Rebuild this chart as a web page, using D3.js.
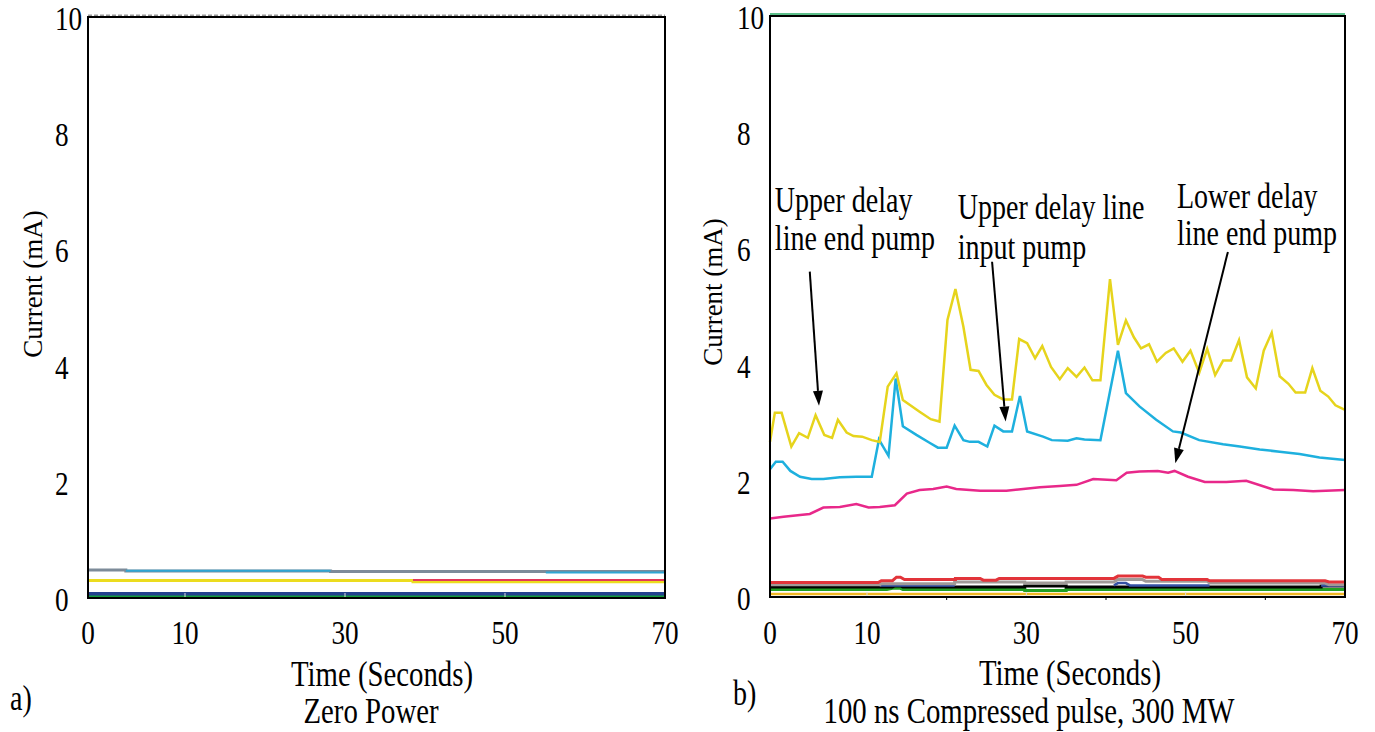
<!DOCTYPE html>
<html>
<head>
<meta charset="utf-8">
<script src="https://cdn.jsdelivr.net/npm/d3@7"></script>
<style>
    body { margin: 0; background: #fff; }
    text { font-family: "Liberation Serif", "Times New Roman", serif; fill: #000; }
</style>
</head>
<body>
<svg id="fig" width="1375" height="732"></svg>
<script>
// ---- data (time in seconds, current in mA) ----
var xTickLabels = [0, 10, 30, 50, 70];
var yTicks = [0, 2, 4, 6, 8, 10];
var innerTicks = [10, 30, 50];
var minorTicks = [20, 40, 60];

// panel a) zero power
var aTop = [[0, 10.03], [70, 10.03]];
var aGray = [[0, 0.48], [3.9, 0.48], [3.9, 0.465], [28.2, 0.465], [28.2, 0.455], [70, 0.455]];
var aCyan = [[3.9, 0.47], [28.2, 0.47], [28.2, null], [55.1, null], [55.1, 0.44], [70, 0.44]];
var aYellow = [[0, 0.3], [38.5, 0.3], [38.5, 0.28], [70, 0.28]];
var aRed = [[38.5, 0.31], [70, 0.31]];
var aNavy = [[0, 0.07], [70, 0.07]];
var aGreen = [[0, 0.025], [70, 0.025]];

// panel b) 100 ns compressed pulse, 300 MW
var bTop = [[0, 10.03], [70, 10.03]];
var bYellow = [[0, 2.67], [0.5, 3.17], [1.2, 3.17], [2.2, 2.59], [3.0, 2.82], [3.9, 2.74], [4.7, 3.13], [5.6, 2.79],
    [6.4, 2.74], [7.0, 3.05], [7.9, 2.83], [8.6, 2.77], [9.5, 2.76], [10.6, 2.70], [11.6, 2.67], [12.6, 3.62],
    [13.7, 3.85], [14.5, 3.39], [16.6, 3.19], [18.0, 3.06], [19.1, 3.02], [20.1, 4.77], [21.1, 5.30], [22.1, 4.65],
    [23.0, 3.91], [24.0, 3.89], [25.0, 3.65], [26.0, 3.48], [27.1, 3.40], [28.2, 3.40], [29.1, 4.44], [30.1, 4.37],
    [31.1, 4.11], [32.0, 4.32], [33.1, 3.96], [34.2, 3.75], [35.2, 3.94], [36.3, 3.79], [37.3, 3.95], [38.3, 3.73],
    [39.3, 3.73], [40.5, 5.47], [41.5, 4.34], [42.5, 4.76], [43.5, 4.47], [44.4, 4.28], [45.4, 4.35], [46.4, 4.05],
    [47.5, 4.20], [48.5, 4.28], [49.6, 4.05], [50.6, 4.24], [51.7, 3.86], [52.7, 4.27], [53.7, 3.82], [54.7, 4.07],
    [55.7, 4.07], [56.7, 4.42], [57.7, 3.78], [58.8, 3.59], [59.8, 4.24], [60.8, 4.55], [61.8, 3.80], [62.9, 3.67],
    [63.8, 3.52], [65.0, 3.52], [65.9, 3.94], [66.9, 3.55], [67.9, 3.45], [68.8, 3.30], [70, 3.22]];
var bCyan = [[0, 2.20], [0.6, 2.33], [1.3, 2.33], [2.1, 2.17], [3.1, 2.07], [4.3, 2.03], [5.5, 2.03], [7.2, 2.06],
    [8.9, 2.07], [10.6, 2.07], [11.5, 2.71], [12.7, 2.43], [13.6, 3.76], [14.5, 2.94], [16.2, 2.79], [17.9, 2.65],
    [18.9, 2.57], [20.0, 2.57], [21.0, 2.95], [22.1, 2.70], [22.9, 2.67], [24.0, 2.67], [25.1, 2.59], [26.0, 2.95],
    [27.1, 2.85], [28.2, 2.85], [29.2, 3.46], [30.1, 2.85], [32.1, 2.76], [33.2, 2.70], [35.2, 2.69], [36.3, 2.73],
    [37.3, 2.71], [39.3, 2.70], [41.5, 4.24], [42.5, 3.51], [44.2, 3.28], [46.3, 3.05], [48.4, 2.85], [49.4, 2.83],
    [51.7, 2.70], [54.7, 2.63], [56.8, 2.59], [59.3, 2.54], [61.8, 2.50], [64.3, 2.46], [66.8, 2.40], [70, 2.36]];
var bMagenta = [[0, 1.35], [1.4, 1.38], [3.1, 1.41], [4.1, 1.43], [5.5, 1.54], [7.2, 1.55], [8.9, 1.60], [10.2, 1.54],
    [11.6, 1.55], [13.5, 1.58], [15.0, 1.78], [16.6, 1.84], [18.3, 1.86], [20.0, 1.90], [21.2, 1.86], [24.2, 1.83],
    [27.5, 1.83], [29.6, 1.86], [31.7, 1.89], [34.2, 1.91], [36.3, 1.93], [38.4, 2.03], [41.3, 2.01], [42.6, 2.14],
    [44.2, 2.16], [46.5, 2.17], [47.8, 2.14], [48.6, 2.17], [50.3, 2.07], [52.4, 1.98], [55.1, 1.98], [57.6, 2.00],
    [61.0, 1.85], [63.5, 1.84], [66.0, 1.82], [70, 1.84]];
var bRed = [[0, 0.25], [11.4, 0.25], [11.8, 0.28], [13.2, 0.28], [13.7, 0.34], [14.2, 0.34], [14.7, 0.30], [21.1, 0.30],
    [21.1, 0.32], [24.2, 0.32], [24.6, 0.29], [26.2, 0.29], [26.6, 0.32], [41, 0.32], [41.5, 0.36], [44.6, 0.36],
    [45, 0.34], [46.6, 0.34], [47, 0.30], [52.7, 0.30], [53, 0.28], [67.5, 0.28], [68, 0.26], [70, 0.26]];
var bGray = [[0, 0.21], [11.6, 0.21], [11.6, 0.23], [21, 0.23], [21, 0.26], [29.8, 0.26], [29.8, 0.24], [35, 0.24],
    [35, 0.26], [41, 0.26], [41.5, 0.30], [44.6, 0.30], [45, 0.27], [52.7, 0.27], [53, 0.24], [67.5, 0.24],
    [68, 0.21], [70, 0.21]];
var bNavy = [[11.6, 0.2], [21, 0.2], [21, null], [41, null], [41, 0.2], [41.5, 0.24], [42.5, 0.24], [43, 0.2],
    [53, 0.2], [53, null], [67, null], [67, 0.2], [70, 0.2]];
var bBlack = [[0, 0.17], [13.2, 0.17], [13.5, 0.19], [14.2, 0.19], [14.5, 0.17], [29.8, 0.17], [29.8, 0.19],
    [35, 0.19], [35, 0.17], [67, 0.17], [67, 0.19], [70, 0.19]];
var bGreen = [[0, 0.13], [12.5, 0.13], [13.2, 0.15], [14.2, 0.15], [14.5, 0.13], [29.8, 0.13], [29.8, 0.11],
    [35, 0.11], [35, 0.13], [70, 0.13]];
var bOrange = [[0, 0.05], [70, 0.05]];

// annotations of panel b: text lines at [t, mA], arrows from [t, mA] to [t, mA]
var bNotes = [
    { t: 0.5, v: 6.63, text: "Upper delay" },
    { t: 0.5, v: 5.98, text: "line end pump" },
    { t: 21.4, v: 6.51, text: "Upper delay line" },
    { t: 21.4, v: 5.82, text: "input pump" },
    { t: 48.9, v: 6.70, text: "Lower delay" },
    { t: 48.9, v: 6.05, text: "line end pump" }
];
var bArrows = [
    [[4.1, 5.60], [5.05, 3.29]],
    [[25.7, 5.77], [27.4, 3.02]],
    [[55.3, 5.94], [48.7, 2.30]]
];

var svg = d3.select("#fig");

// text in the reference is narrow, so squeeze it horizontally
function label(g, x, y, s, anchor, size) {
    return g.append("text")
        .attr("transform", "translate(" + x + "," + y + ") scale(0.8,1)")
        .attr("text-anchor", anchor || "start")
        .style("font-size", (size || 35) + "px")
        .text(s);
}

function drawPanel(p) {
    var g = svg.append("g");

    // 0 is pinned to the left edge, the rest of the axis is uniform
    var x = d3.scaleLinear().domain([0, 10, 70]).range(p.xRange);
    var y = d3.scaleLinear().domain([0, 10]).range(p.yRange);

    var line = d3.line()
        .defined(function(d) { return d[1] !== null; })
        .x(function(d) { return x(d[0]); })
        .y(function(d) { return y(d[1]); });

    p.series.forEach(function(s) {
        g.append("path")
            .datum(s.data)
            .attr("fill", "none")
            .attr("stroke", s.color)
            .attr("stroke-width", s.width || 2.5)
            .attr("stroke-dasharray", s.dash || null)
            .attr("d", line);
    });

    // frame
    g.append("rect")
        .attr("x", p.xRange[0])
        .attr("y", p.yRange[1])
        .attr("width", p.xRange[2] - p.xRange[0])
        .attr("height", p.yRange[0] - p.yRange[1])
        .attr("fill", "none")
        .attr("stroke", "#000")
        .attr("stroke-width", 2);

    // little inward ticks on the bottom edge
    g.selectAll(".itick").data(innerTicks).enter().append("line")
        .attr("x1", x).attr("x2", x)
        .attr("y1", p.yRange[0] - 1).attr("y2", p.yRange[0] - 5)
        .attr("stroke", "#ddd").attr("stroke-width", 1);
    if (p.minor) {
        g.selectAll(".mtick").data(minorTicks).enter().append("line")
            .attr("x1", x).attr("x2", x)
            .attr("y1", p.yRange[0]).attr("y2", p.yRange[0] + 3)
            .attr("stroke", "#000").attr("stroke-width", 1);
    }

    // tick labels
    yTicks.forEach(function(v) {
        label(g, p.yLabelX, y(v) + 13, String(v), "start", 34);
    });
    xTickLabels.forEach(function(t) {
        label(g, x(t), 644, String(t), "middle", 34);
    });

    // axis titles
    g.append("text")
        .attr("transform", "translate(" + p.yTitle[0] + "," + p.yTitle[1] + ") rotate(-90)")
        .attr("text-anchor", "middle")
        .style("font-size", "27px")
        .text("Current (mA)");
    label(g, p.xTitle[0], p.xTitle[1], "Time (Seconds)", "middle", 36);
    label(g, p.tag[0], p.tag[1], p.tag[2], "start");
    label(g, p.caption[0], p.caption[1], p.caption[2], "middle", 36);

    if (p.notes) {
        p.notes.forEach(function(n) {
            label(g, x(n.t), y(n.v), n.text, "start");
        });
    }
    if (p.arrows) {
        p.arrows.forEach(function(a) {
            var x1 = x(a[0][0]), y1 = y(a[0][1]), x2 = x(a[1][0]), y2 = y(a[1][1]);
            var ang = Math.atan2(y2 - y1, x2 - x1);
            var len = 15, half = 5;
            var bx = x2 - len * Math.cos(ang), by = y2 - len * Math.sin(ang);
            g.append("line")
                .attr("x1", x1).attr("y1", y1).attr("x2", bx).attr("y2", by)
                .attr("stroke", "#000").attr("stroke-width", 2);
            g.append("path")
                .attr("d", "M" + x2 + "," + y2 +
                    "L" + (bx + half * Math.sin(ang)) + "," + (by - half * Math.cos(ang)) +
                    "L" + (bx - half * Math.sin(ang)) + "," + (by + half * Math.cos(ang)) + "Z")
                .attr("fill", "#000");
        });
    }
}

drawPanel({
    xRange: [88, 185, 665],
    yRange: [598, 17],
    yLabelX: 55,
    yTitle: [42, 284],
    xTitle: [382, 686],
    tag: [10, 710, "a)"],
    caption: [371, 723, "Zero Power"],
    series: [
        { data: aTop, color: "#9a9a9a", width: 1.5, dash: "4,2" },
        { data: aGray, color: "#7d8b99", width: 3 },
        { data: aCyan, color: "#2fa6d3", width: 2 },
        { data: aYellow, color: "#ecdc1e", width: 3 },
        { data: aRed, color: "#e2385a", width: 2 },
        { data: aNavy, color: "#23408e", width: 4 },
        { data: aGreen, color: "#149a3c", width: 2 }
    ]
});

drawPanel({
    xRange: [770, 867, 1345],
    yRange: [597, 16],
    yLabelX: 737,
    yTitle: [722, 292],
    xTitle: [1070, 685],
    tag: [733, 705, "b)"],
    caption: [1029, 723, "100 ns Compressed pulse, 300 MW"],
    minor: true,
    notes: bNotes,
    arrows: bArrows,
    series: [
        { data: bTop, color: "#5cbf8a", width: 2.5 },
        { data: bOrange, color: "#f2b824", width: 2.5 },
        { data: bGreen, color: "#22a022", width: 3 },
        { data: bBlack, color: "#000", width: 3 },
        { data: bNavy, color: "#3552a5", width: 2.5 },
        { data: bGray, color: "#a09a98", width: 3 },
        { data: bRed, color: "#e2343a", width: 3 },
        { data: bMagenta, color: "#e8288a", width: 2.5 },
        { data: bCyan, color: "#1eb0de", width: 2.5 },
        { data: bYellow, color: "#e6d41c", width: 2.5 }
    ]
});
</script>
</body>
</html>
